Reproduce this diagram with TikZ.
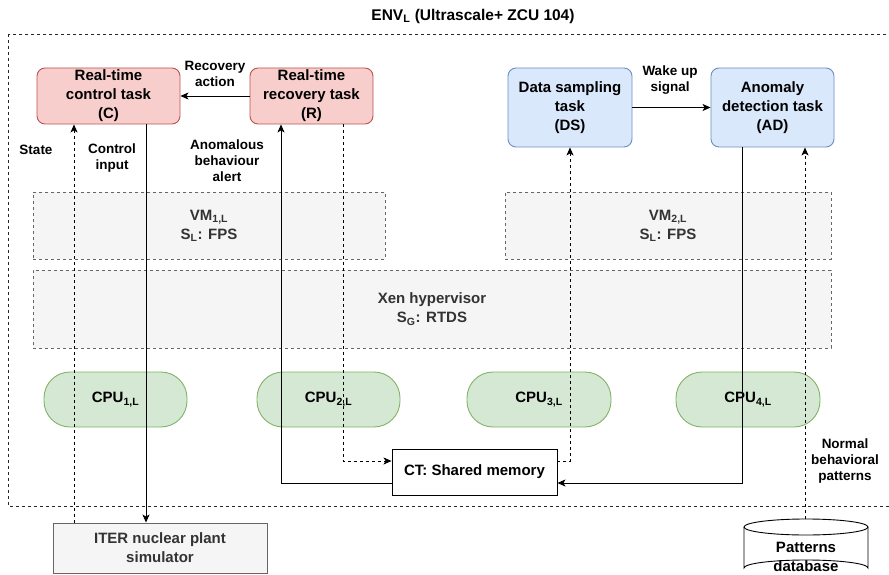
\documentclass[tikz,border=0pt]{standalone}
\usepackage{fontspec}
\setmainfont{Liberation Sans}
\usetikzlibrary{arrows.meta,calc}
\definecolor{redfill}{HTML}{F8CECC}
\definecolor{redline}{HTML}{B85450}
\definecolor{bluefill}{HTML}{DAE8FC}
\definecolor{blueline}{HTML}{6C8EBF}
\definecolor{greenfill}{HTML}{D5E8D4}
\definecolor{greenline}{HTML}{82B366}
\definecolor{grayfill}{HTML}{F5F5F5}
\definecolor{grayline}{HTML}{666666}
\definecolor{graytext}{HTML}{333333}
\newcommand\sbs[1]{\textsubscript{#1}}
\tikzset{
  base/.style={inner sep=0pt, align=center, line width=0.9pt, font=\fontsize{15}{19}\selectfont\bfseries},
  redtask/.style={base, draw=redline, fill=redfill, rounded corners=8pt},
  bluetask/.style={base, draw=blueline, fill=bluefill, rounded corners=8pt},
  vmbox/.style={base, draw=grayline, fill=grayfill, dash pattern=on 3pt off 3pt, text=graytext},
  cpubox/.style={base, draw=greenline, fill=greenfill, rounded corners=26pt, minimum width=143pt, minimum height=55pt},
  plainbox/.style={base, draw=black, fill=white},
  simbox/.style={base, draw=grayline, fill=grayfill, text=graytext},
  lbl/.style={inner sep=0pt, align=center, font=\fontsize{13.5}{16}\selectfont\bfseries},
  conn/.style={line width=0.9pt, -{Stealth[length=8pt, width=7pt, inset=2pt]}},
  dconn/.style={conn, dash pattern=on 3pt off 3pt},
}
\begin{document}
\begin{tikzpicture}[x=1pt,y=-1pt]
\useasboundingbox (0,0) rectangle (889,575);
% environment frame (right side lies beyond the picture edge)
\draw[line width=0.9pt, dash pattern=on 3pt off 3pt, draw=black!85] (8,34) rectangle (896,506);
\node[base, font=\fontsize{15.5}{19}\selectfont\bfseries] (title) at (473,16) {ENV\sbs{L} (Ultrascale+ ZCU 104)};

% tasks
\node[redtask, minimum width=143pt, minimum height=56pt] (C) at (108.5,96) {Real-time\\control task\\(C)};
\node[redtask, minimum width=123pt, minimum height=56pt] (R) at (311.5,96) {Real-time\\recovery task\\(R)};
\node[bluetask, minimum width=124pt, minimum height=79pt] (DS) at (570,107.5) {Data sampling\\task\\(DS)};
\node[bluetask, minimum width=123pt, minimum height=79pt] (AD) at (772.5,107.5) {Anomaly\\detection task\\(AD)};

% layers
\node[vmbox, minimum width=352pt, minimum height=67pt] (VM1) at (209,225.5) {VM\sbs{1,L}\\S\sbs{L}: FPS};
\node[vmbox, minimum width=326pt, minimum height=67pt] (VM2) at (668,225.5) {VM\sbs{2,L}\\S\sbs{L}: FPS};
\node[vmbox, minimum width=798pt, minimum height=78pt] (XEN) at (432,309) {Xen hypervisor\\S\sbs{G}: RTDS};

% CPUs
\node[cpubox] (CPU1) at (115.5,399.5) {CPU\sbs{1,L}};
\node[cpubox] (CPU2) at (328.5,399.5) {CPU\sbs{2,L}};
\node[cpubox, minimum width=144pt] (CPU3) at (539,399.5) {CPU\sbs{3,L}};
\node[cpubox, minimum width=144pt] (CPU4) at (748,399.5) {CPU\sbs{4,L}};

% shared memory, simulator
\node[plainbox, minimum width=165pt, minimum height=46pt] (SM) at (474.5,472) {CT: Shared memory};
\node[simbox, minimum width=214pt, minimum height=50pt] (ITER) at (160,548) {ITER nuclear plant\\simulator};

% database cylinder
\draw[line width=0.9pt, fill=white] (744,527) -- (744,568) arc[start angle=180, end angle=360, x radius=62pt, y radius=-8pt] -- (868,527);
\draw[line width=0.9pt, fill=white] (806,527) ellipse [x radius=62pt, y radius=8pt];
\node[base, minimum width=124pt, minimum height=76pt] (DB) at (806,557) {Patterns\\database};

% helper coordinates
\coordinate (xstate) at (74,0);
\coordinate (xctrl) at (146,0);
\coordinate (xalert) at (281,0);
\coordinate (xr) at (343,0);
\coordinate (xds) at (570,0);
\coordinate (xad) at (742,0);
\coordinate (xdb) at (805,0);
\coordinate (ydash) at (0,461);
\coordinate (ysolid) at (0,483);

% connectors
\draw[conn] (R.west) -- (C.east);
\draw[conn] (DS.east) -- (AD.west);
\draw[dconn] (ITER.north -| xstate) -- (C.south -| xstate);
\draw[conn] (C.south -| xctrl) -- (ITER.north -| xctrl);
\draw[conn] (SM.west |- ysolid) -| (R.south -| xalert);
\draw[dconn] (R.south -| xr) |- (SM.west |- ydash);
\draw[dconn] (SM.east |- ydash) -| (DS.south -| xds);
\draw[conn] (AD.south -| xad) |- (SM.east |- ysolid);
\draw[dconn] (DB.north -| xdb) -- (AD.south -| xdb);

% labels
\node[lbl] (lrec) at (215,74) {Recovery\\action};
\node[lbl] (lwake) at (670,80) {Wake up\\signal};
\node[lbl] (lstate) at (36,150) {State};
\node[lbl] (lctrl) at (112,158) {Control\\input};
\node[lbl] (lalert) at (227,161) {Anomalous\\behaviour\\alert};
\node[lbl] (lnorm) at (845,461) {Normal\\behavioral\\patterns};
\end{tikzpicture}
\end{document}
